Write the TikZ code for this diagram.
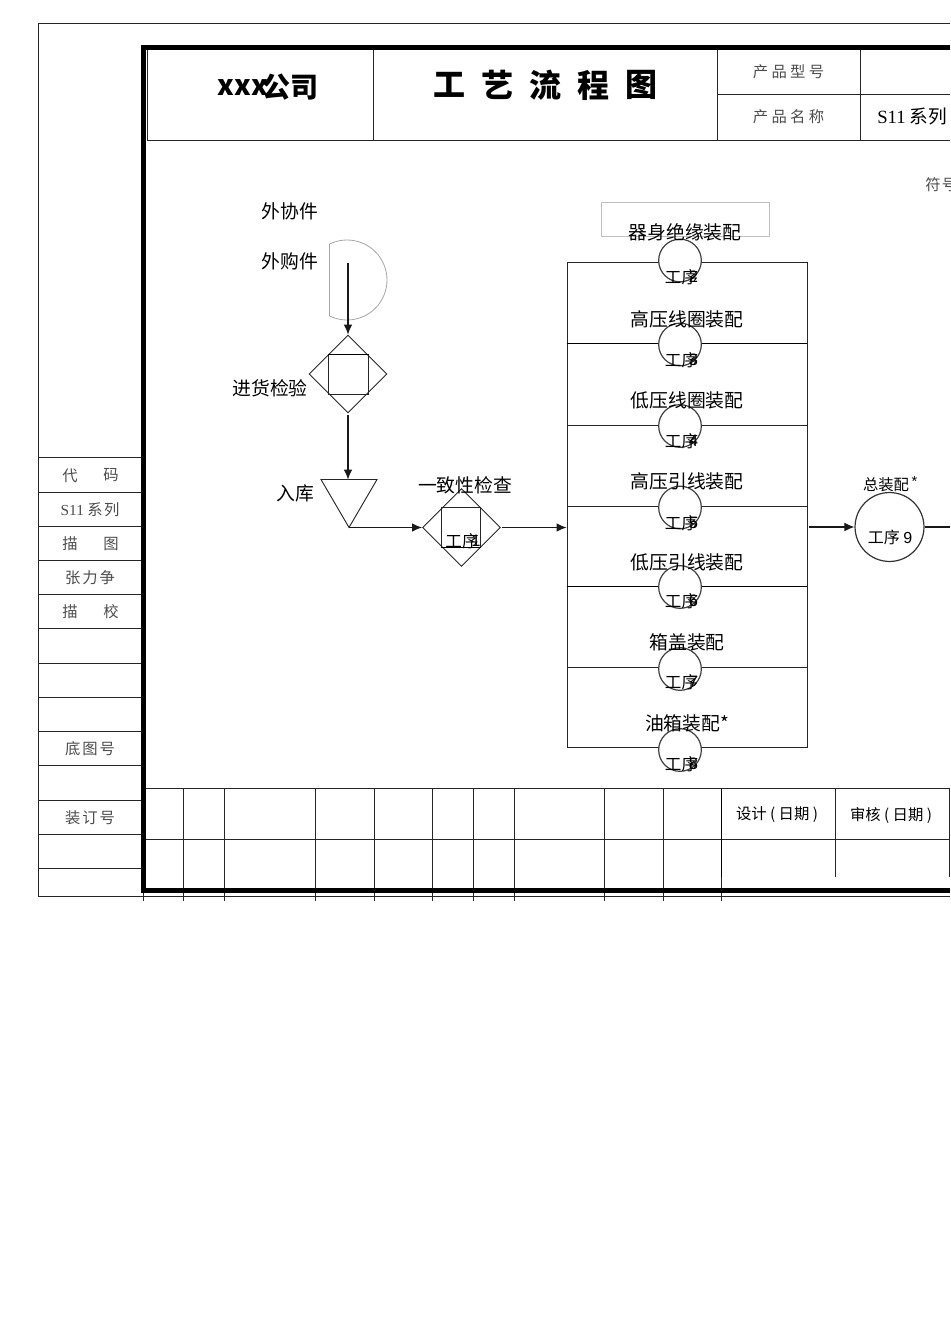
\documentclass[tikz,border=0pt]{standalone}
\usepackage{fontspec}
\setmainfont{Noto Sans CJK SC}
\newfontfamily\serifl{Liberation Serif}
\newfontfamily\sansl{Liberation Sans}
\usetikzlibrary{shapes.geometric,arrows.meta}
\tikzset{
 x=0.75pt,y=-0.75pt,
 ln/.style={line width=0.7pt,draw=black!85},
 hv/.style={line width=1.2pt,draw=black},
 lite/.style={line width=0.6pt,draw=black!35},
 thickframe/.style={line width=3.5pt,draw=black},
 arr/.style={line width=0.8pt,draw=black!90,-{Latex[length=7.5pt,width=6.5pt]}},
 dia/.style={diamond,draw=black!85,line width=0.7pt,inner sep=0pt,minimum width=58.5pt,minimum height=58.5pt},
 sq/.style={rectangle,draw=black!85,line width=0.7pt,inner sep=0pt,minimum width=29.5pt,minimum height=29.5pt},
 proc/.style={circle,fill=white,draw=black!75,line width=0.9pt,inner sep=0pt,minimum size=32pt},
 lab/.style={inner sep=0pt,font=\fontsize{14.1}{14.1}\selectfont},
 pl/.style={inner sep=0pt,font=\fontsize{12.4}{12.4}\selectfont},
 dg/.style={inner sep=0pt,font=\fontsize{12.4}{12.4}\sansl},
 thintx/.style={inner sep=0pt,text=black!70,font=\fontsize{11.5}{11.5}\selectfont},
 small/.style={inner sep=0pt,font=\fontsize{11.5}{11.5}\selectfont},
 ttl/.style={inner sep=0pt,font=\fontsize{24}{24}\selectfont\bfseries},
 co/.style={inner sep=0pt,font=\fontsize{21}{21}\selectfont\bfseries},
}
\begin{document}
\begin{tikzpicture}
\useasboundingbox (0,0) rectangle (950,1344);
\clip (0,0) rectangle (950,1344);
% outer frame
\draw[ln] (950,23) -- (38.5,23) -- (38.5,896) -- (950,896);
% left strip
\foreach \yy in {457,492,526,560,594,628,663,697,731,765,800,834,868}
  \draw[ln] (38.5,\yy) -- (141,\yy);
% header grid
\draw[ln] (147,50) -- (147,140.5) -- (950,140.5);
\foreach \xx in {373,717,860.5} \draw[ln] (\xx,50) -- (\xx,140.5);
\draw[ln] (717,94) -- (950,94);
% bottom table
\draw[ln] (145,788.5) -- (950,788.5);
\draw[ln] (145,839.5) -- (950,839.5);
\foreach \xx in {183,224,315.5,374,432.5,473,514.5,604.5,663.5}
  \draw[ln] (\xx,788.5) -- (\xx,901);
\draw[ln] (143,893) -- (143,901);
\draw[hv] (721.5,788.5) -- (721.5,877);
\draw[ln] (721.5,877) -- (721.5,901);
\foreach \xx in {835,949} \draw[ln] (\xx,788.5) -- (\xx,877);
% thick frame
\draw[thickframe] (950,47.8) -- (143.5,47.8) -- (143.5,890.5) -- (950,890.5);
% header texts
\node[co] (co1) at (243,88) {xxx};
\node[co] (co2) at (290,87) {公司};
\node[ttl] (t1) at (449,85) {工};
\node[ttl] (t2) at (497,85) {艺};
\node[ttl] (t3) at (545,85) {流};
\node[ttl] (t4) at (593,85) {程};
\node[ttl] (t5) at (641,85) {图};
\node[thintx] (h1) at (788.5,72) {产\hspace{2.5pt}品\hspace{2.5pt}型\hspace{2.5pt}号};
\node[thintx] (h2) at (788.5,117) {产\hspace{2.5pt}品\hspace{2.5pt}名\hspace{2.5pt}称};
\node[inner sep=0pt,anchor=west,font=\fontsize{14}{14}\selectfont] (h3) at (877,117) {{\serifl S11} 系列};
\node[thintx,anchor=west] (sym) at (925,185) {符\hspace{1pt}号};
% left strip texts
\node[thintx] (l1a) at (70,475.5) {代};
\node[thintx] (l1b) at (111,475.5) {码};
\node[thintx] (l2) at (90,510) {{\serifl S11} 系\hspace{1pt}列};
\node[thintx] (l3a) at (70,544) {描};
\node[thintx] (l3b) at (111,544) {图};
\node[thintx] (l4) at (90,578) {张\hspace{1.5pt}力\hspace{1.5pt}争};
\node[thintx] (l5a) at (70,612) {描};
\node[thintx] (l5b) at (111,612) {校};
\node[thintx] (l6) at (90,749) {底\hspace{1.5pt}图\hspace{1.5pt}号};
\node[thintx] (l7) at (90,817.5) {装\hspace{1.5pt}订\hspace{1.5pt}号};
% purchase D shape
\begin{scope}
 \clip (329.5,230) rectangle (400,330);
 \node[circle,draw=black!35,line width=0.6pt,inner sep=0pt,minimum size=60pt] (dshape) at (347,280) {};
\end{scope}
\draw[lite] (329.5,244) -- (329.5,316);
\coordinate (start) at (348,263);
% inspection diamonds
\node[dia] (d1) at (348,374) {};
\node[sq] (s1) at (348.5,374.5) {};
\draw[hv] (s1.north west) -- (s1.north east);
\node[dia] (d2) at (461.5,527.5) {};
\node[sq] (s2) at (461,527.5) {};
\draw[hv] (s2.south west) -- (s2.south east);
% storage triangle
\coordinate (ta) at (321,479.5);
\coordinate (tb) at (377,479.5);
\coordinate (tc) at (349,527.5);
\coordinate (tt) at (348,479.5);
\draw[ln] (ta) -- (tb) -- (tc) -- cycle;
% process box
\node[rectangle,draw=black!85,line width=0.7pt,inner sep=0pt,minimum width=180pt,minimum height=364.1pt] (box) at (687,505.2) {};
\draw[ln] (box.west |- 0,425.5) -- (box.east |- 0,425.5);
\draw[ln] (box.west |- 0,506.5) -- (box.east |- 0,506.5);
\draw[ln] (box.west |- 0,667) -- (box.east |- 0,667);
\draw[hv] (box.west |- 0,343.5) -- (box.east |- 0,343.5);
\draw[hv] (box.west |- 0,586.5) -- (box.east |- 0,586.5);
\node[rectangle,draw=black!25,line width=0.6pt,inner sep=0pt,minimum width=126.5pt,minimum height=25.5pt] (gbox) at (685.5,219.5) {};
% process circles
\node[proc] (p2) at (680,260.5) {};
\node[proc] (p3) at (680,344.5) {};
\node[proc] (p4) at (680,426) {};
\node[proc] (p5) at (680,507.5) {};
\node[proc] (p6) at (680,587) {};
\node[proc] (p7) at (680,669) {};
\node[proc] (p8) at (680,750) {};
\node[circle,draw=black!80,line width=0.9pt,inner sep=0pt,minimum size=51.7pt] (p9) at (889.5,527) {};
% connectors
\draw[arr] (start) -- (d1.north);
\draw[arr,shorten <=1.5pt] (d1.south) -- (tt);
\draw[arr] (tc) -- (d2.west);
\draw[arr,shorten <=1pt] (d2.east) -- (box.west |- d2.east);
\draw[arr,shorten <=1pt] (box.east |- p9.west) -- (p9.west);
\coordinate (rightend) at (950,527);
\draw[line width=0.8pt,draw=black!90] (p9.east) -- (rightend);
% flow labels
\node[lab] (a1) at (290,211) {外协件};
\node[lab] (a2) at (290,261) {外购件};
\node[lab] (a3) at (270,388) {进货检验};
\node[lab] (a4) at (295,493) {入库};
\node[lab] (a5) at (465,485) {一致性检查};
\node[pl] (q1) at (462,541) {工序};
\node[dg] (q1n) at (476,541) {1};
\node[lab] (b2) at (685,232) {器身绝缘装配};
\node[lab] (b3) at (687,319) {高压线圈装配};
\node[lab] (b4) at (687,400.5) {低压线圈装配};
\node[lab] (b5) at (687,481.5) {高压引线装配};
\node[lab] (b6) at (687,562.5) {低压引线装配};
\node[lab] (b7) at (687,642.5) {箱盖装配};
\node[lab] (b8) at (687,723) {油箱装配*};
\foreach \nm/\yy/\dd in {c2/277/2,c3/360/3,c4/441/4,c5/523/5,c6/601/6,c7/682/7,c8/764/8}{
  \node[pl] (\nm) at (681.5,\yy) {工序};
  \node[dg] (\nm n) at (693.5,\yy) {\dd};
}
\node[small] (c9a) at (886,485) {总装配};
\node[inner sep=0pt,font=\fontsize{11}{11}\sansl] (c9s) at (914.5,481) {*};
\node[inner sep=0pt,font=\fontsize{12}{12}\selectfont] (c9) at (890,537) {工序 {\sansl 9}};
% table labels
\node[small] (f1) at (777,815) {设计 ( 日期 )};
\node[small] (f2) at (891,815) {审核 ( 日期 )};
\end{tikzpicture}
\end{document}
